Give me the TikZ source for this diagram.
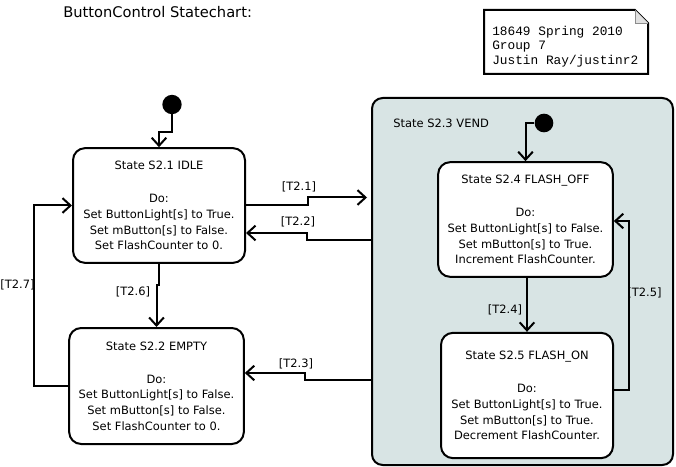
\documentclass[tikz,border=0pt]{standalone}
\usepackage{fontspec}
\setmainfont{DejaVu Sans}
\newfontfamily\notefont{Liberation Mono}
\usetikzlibrary{arrows.meta}
\definecolor{vendfill}{RGB}{216,228,228}

\begin{document}
\begin{tikzpicture}[x=0.75pt,y=-0.75pt,>={Straight Barb[length=6pt,width=11pt]}]
\tikzstyle{state}=[draw,rounded corners=9pt,line width=1.5pt,fill=white,align=center,font=\fontsize{8.6}{11.8}\selectfont,minimum width=130pt,inner sep=0pt]
\tikzstyle{initial}=[circle,fill=black,minimum size=14.5pt,inner sep=0pt]
\tikzstyle{trans}=[->,line width=1.5pt]
\tikzstyle{guard}=[font=\fontsize{8.6}{11.8}\selectfont,inner sep=0pt]
\useasboundingbox (0,0) rectangle (676,467);
\node[font=\fontsize{11}{13}\selectfont,anchor=west,inner sep=0pt] (title) at (63,12) {ButtonControl Statechart:};
% note in the corner
\draw[fill=white,line width=1.5pt] (484,10) -- (635,10) -- (648,23) -- (648,74) -- (484,74) -- cycle;
\draw[fill=black!12,draw=black!45,line width=0.6pt] (635,10) -- (635,23) -- (648,23);
\node[align=left,anchor=west,inner sep=0pt,font=\notefont\fontsize{9.6}{10.9}\selectfont] (note) at (492,46.5) {18649 Spring 2010\\Group 7\\Justin Ray/justinr2};
% superstate
\node[draw,fill=vendfill,rounded corners=8pt,line width=1.5pt,minimum width=225.75pt,minimum height=275.25pt] (vend) at (522.5,281.5) {};
\node[guard,anchor=west] (vendname) at (393,123) {State S2.3 VEND};
\node[initial] (init1) at (172,104.5) {};
\node[initial,minimum size=14pt] (init2) at (544,123) {};
\foreach \name/\point/\bw/\bh/\body in {
	idle/{159,205.5}/129pt/86pt/{State S2.1 IDLE\\[13pt]Do:\\Set ButtonLight[s] to True.\\Set mButton[s] to False.\\Set FlashCounter to 0.},
	empty/{156.5,386}/131pt/87pt/{State S2.2 EMPTY\\[13pt]Do:\\Set ButtonLight[s] to False.\\Set mButton[s] to False.\\Set FlashCounter to 0.},
	flashoff/{525.5,219.5}/131pt/86pt/{State S2.4 FLASH\_OFF\\[13pt]Do:\\Set ButtonLight[s] to False.\\Set mButton[s] to True.\\Increment FlashCounter.},
	flashon/{527,395.5}/129pt/94pt/{State S2.5 FLASH\_ON\\[13pt]Do:\\Set ButtonLight[s] to True.\\Set mButton[s] to True.\\Decrement FlashCounter.}}
	\node[state,minimum width=\bw,minimum height=\bh] (\name) at (\point) {\body};
\draw[trans] (init1) -- (172,132) -| (idle.north);
\draw[trans] (init2) -| (flashoff.north);
\draw[trans,shorten >=3pt] (idle.east) -- ++(62,0) -- ++(0,-8) -- (vend.west |- 0,197.5);
\draw[trans] (vend.west |- 0,240) -- ++(-64,0) |- (idle.east |- 0,233);
\draw[trans] (vend.west |- 0,380) -- ++(-66,0) |- (empty.east |- 0,373);
\draw[trans] (idle.south) -- ++(0,21) -| (empty.north);
\draw[trans] (empty.west) -- ++(-34,0) |- (idle.west);
\draw[trans] (flashoff.south -| flashon.north) -- (flashon.north);
\draw[trans] (flashon.east |- 0,390) -- ++(15,0) |- (flashoff.east |- 0,221);
\node[guard] (g21) at (299,187) {[T2.1]};
\node[guard] (g22) at (298,222) {[T2.2]};
\node[guard] (g23) at (296,364) {[T2.3]};
\node[guard] (g24) at (505,310) {[T2.4]};
\node[guard] (g25) at (644.5,293) {[T2.5]};
\node[guard] (g26) at (133,292) {[T2.6]};
\node[guard] (g27) at (17.5,285) {[T2.7]};
\end{tikzpicture}
\end{document}
